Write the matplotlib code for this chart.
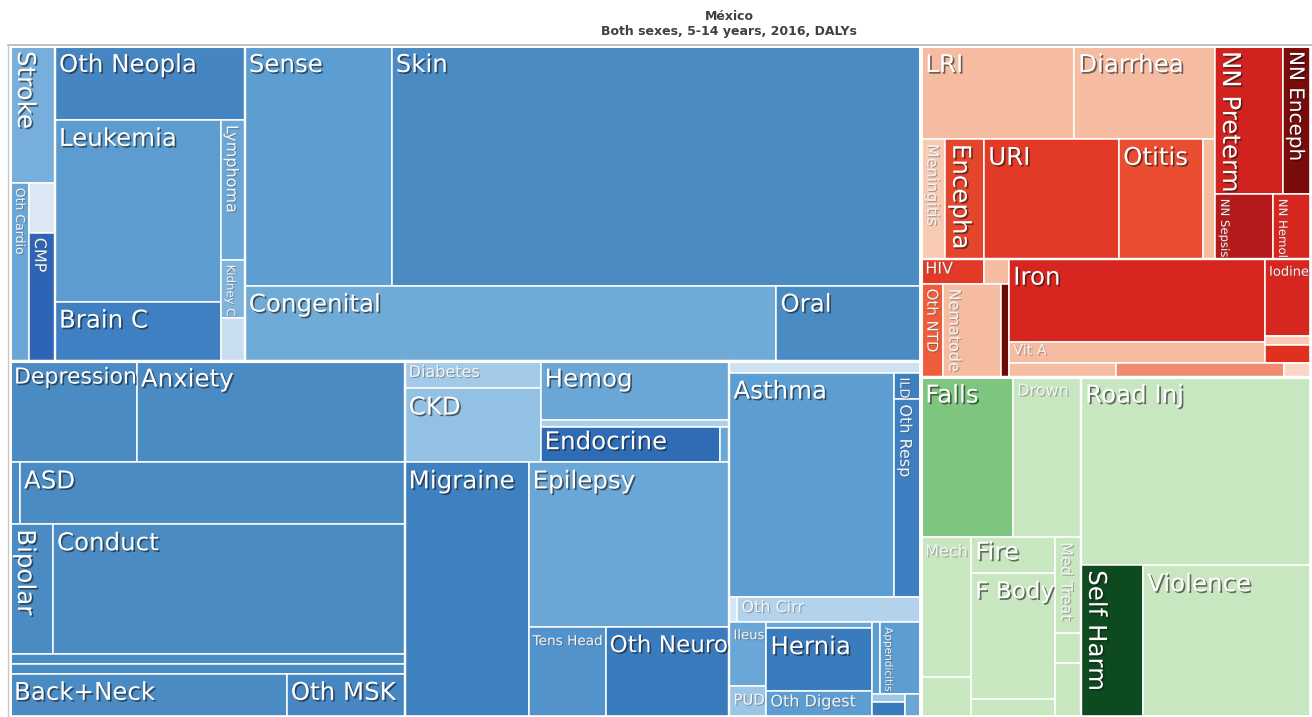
import matplotlib
matplotlib.use("Agg")
import matplotlib.pyplot as plt
from matplotlib.patches import Rectangle
from matplotlib.textpath import TextPath
from matplotlib.font_manager import FontProperties
import matplotlib.patheffects as pe

# ---------------- data (DALY shares, relative units) ----------------
title_country = "México"
title_detail = "Both sexes, 5-14 years, 2016, DALYs"

ncd_causes = ["Stroke", "Oth Cardio", "Endocarditis", "CMP",
              "Oth Neopla", "Leukemia", "Brain C", "Lymphoma", "Kidney C", "Oth Malig",
              "Sense", "Skin", "Congenital", "Oral",
              "Depression", "Anxiety", "Schizo", "ASD", "Bipolar", "Conduct", "ADHD", "Id Int Dis",
              "Back+Neck", "Oth MSK",
              "Diabetes", "CKD", "Hemog", "G6PD", "Endocrine", "Thalass",
              "Migraine", "Epilepsy", "Tens Head", "Oth Neuro",
              "Oth NCD", "Asthma", "ILD", "Oth Resp", "Cirr HepB", "Oth Cirr",
              "Ileus", "PUD", "Gastritis", "Hernia", "Oth Digest", "Gallbladder", "Appendicitis",
              "IBD", "Pancreatitis", "Vasc Intest"]
ncd_dalys = [6165, 3382, 1300, 3328,
             14060, 30212, 9794, 3360, 1392, 1032,
             35280, 127200, 39900, 10875,
             12954, 27336, 620, 23870, 5590, 45760, 3950, 3950,
             11911, 5074,
             3808, 10064, 11340, 1323, 6300, 315,
             31620, 33165, 6930, 11160,
             2304, 37125, 729, 5346, 200, 4600,
             2368, 1147, 636, 6678, 2756, 576, 2952,
             264, 495, 368]
ncd_colors = ["#78aedb", "#6aa6d6", "#dbe8f4", "#2d64b5",
              "#4585c2", "#5c9cd1", "#3e80c1", "#6aa7d7", "#7fb4dc", "#c9def0",
              "#5c9dd2", "#4a8bc4", "#70aad6", "#4a8bc4",
              "#4a8bc4", "#4a8bc4", "#4a8bc4", "#4a8bc4", "#4a8bc4", "#4a8bc4", "#4a8bc4", "#4a8bc4",
              "#4a8bc4", "#4686c2",
              "#a3cbe9", "#93c1e3", "#6aa6d6", "#a9cfeb", "#2f6cb6", "#6aa6d6",
              "#3f80c0", "#6aa6d6", "#5293cb", "#3a7bbe",
              "#cfe2f2", "#5c9dd2", "#3d7fc0", "#3d7fc0", "#d5e6f4", "#b3d3ed",
              "#6aa6d6", "#9cc6e6", "#6aa6d6", "#3a7bbe", "#5c9dd2", "#5c9dd2", "#5c9dd2",
              "#9cc6e6", "#3a7bbe", "#6aa6d6"]

cmnn_causes = ["LRI", "Diarrhea", "Meningitis", "Encepha", "URI", "Otitis", "Typhoid",
               "NN Preterm", "NN Enceph", "NN Sepsis", "NN Hemol",
               "HIV", "TB", "Oth NTD", "Nematode", "Dengue",
               "Iron", "Vit A", "Iodine", "Oth Nutr", "PEM",
               "Oth Infect", "Malaria", "STD"]
cmnn_dalys = [14229, 13113, 2880, 4680, 16200, 10080, 1440,
              10064, 4144, 3770, 2470,
              1575, 625, 2046, 5394, 744,
              21248, 5376, 3542, 414, 828,
              1498, 2352, 378]
cmnn_colors = ["#f6bca2", "#f6bca2", "#f8cab4", "#e4462c", "#e23a26", "#ea4d31", "#f6bca2",
               "#d0221e", "#7a0b0b", "#b41a1a", "#d7261f",
               "#e23a26", "#f6bca2", "#ee5c3a", "#f6bca2", "#6d0a0a",
               "#d7261f", "#f6bca2", "#d7261f", "#f8cab4", "#e0301f",
               "#f6bca2", "#f08b71", "#fbd6c6"]

inj_causes = ["Falls", "Drown", "Mech", "Oth Unint", "Fire", "F Body", "Animal",
              "Med Treat", "Disaster", "Poison", "Road Inj", "Self Harm", "Violence"]
inj_dalys = [14812, 10948, 7000, 2000, 3024, 10584, 1512,
             2496, 780, 1404, 43470, 9424, 25536]
inj_colors = ["#7ec67f", "#c8e7c1", "#c8e7c1", "#c8e7c1", "#c8e7c1", "#c8e7c1", "#c8e7c1",
              "#c8e7c1", "#c8e7c1", "#c8e7c1", "#c8e7c1", "#0d4a1f", "#c8e7c1"]

# ---------------- nesting (split direction, children) ----------------
NCD = ('v', [
    ('h', [
        ('v', ['Stroke', ('h', ['Oth Cardio', ('v', ['Endocarditis', 'CMP'])])]),
        ('v', ['Oth Neopla', ('h', [('v', ['Leukemia', 'Brain C']),
                                    ('v', ['Lymphoma', 'Kidney C', 'Oth Malig'])])]),
        ('v', [('h', ['Sense', 'Skin']), ('h', ['Congenital', 'Oral'])]),
    ]),
    ('h', [
        ('v', [('h', ['Depression', 'Anxiety']), ('h', ['Schizo', 'ASD']),
               ('h', ['Bipolar', 'Conduct']), 'ADHD', 'Id Int Dis',
               ('h', ['Back+Neck', 'Oth MSK'])]),
        ('v', [('h', [('v', ['Diabetes', 'CKD']),
                      ('v', ['Hemog', 'G6PD', ('h', ['Endocrine', 'Thalass'])])]),
               ('h', ['Migraine', ('v', ['Epilepsy', ('h', ['Tens Head', 'Oth Neuro'])])])]),
        ('v', ['Oth NCD', ('h', ['Asthma', ('v', ['ILD', 'Oth Resp'])]),
               ('h', ['Cirr HepB', 'Oth Cirr']),
               ('h', [('v', ['Ileus', 'PUD']),
                      ('v', ['Gastritis', 'Hernia', 'Oth Digest']),
                      ('v', [('h', ['Gallbladder', 'Appendicitis']),
                             ('h', [('v', ['IBD', 'Pancreatitis']), 'Vasc Intest'])])])]),
    ]),
])
CMNN = ('v', [
    ('h', [
        ('v', [('h', ['LRI', 'Diarrhea']),
               ('h', ['Meningitis', 'Encepha', 'URI', 'Otitis', 'Typhoid'])]),
        ('v', [('h', ['NN Preterm', 'NN Enceph']), ('h', ['NN Sepsis', 'NN Hemol'])]),
    ]),
    ('h', [
        ('v', [('h', ['HIV', 'TB']), ('h', ['Oth NTD', 'Nematode', 'Dengue'])]),
        ('v', [('h', [('v', ['Iron', 'Vit A']), ('v', ['Iodine', 'Oth Nutr', 'PEM'])]),
               ('h', ['Oth Infect', 'Malaria', 'STD'])]),
    ]),
])
INJ = ('h', [
    ('v', [('h', ['Falls', 'Drown']),
           ('h', [('v', ['Mech', 'Oth Unint']), ('v', ['Fire', 'F Body', 'Animal']),
                  ('v', ['Med Treat', 'Disaster', 'Poison'])])]),
    ('v', ['Road Inj', ('h', ['Self Harm', 'Violence'])]),
])
ROOT = ('h', [NCD, ('v', [CMNN, INJ])])

hidden = {"Endocarditis", "Oth Malig", "Schizo", "ADHD", "Id Int Dis", "G6PD", "Thalass",
          "Oth NCD", "Cirr HepB", "Gastritis", "Gallbladder", "IBD", "Pancreatitis",
          "Vasc Intest", "Typhoid", "TB", "Dengue", "Oth Nutr", "PEM", "Oth Infect",
          "Malaria", "STD", "Oth Unint", "Animal", "Disaster", "Poison"}
vertical = {"Stroke", "Oth Cardio", "CMP", "Lymphoma", "Kidney C", "Bipolar", "ILD",
            "Oth Resp", "Appendicitis", "Meningitis", "Encepha", "NN Preterm", "NN Enceph",
            "NN Sepsis", "NN Hemol", "Oth NTD", "Nematode", "Med Treat", "Self Harm"}
faint = {"Oth Cardio", "CMP", "Lymphoma", "Kidney C", "Diabetes", "Tens Head", "ILD",
         "Oth Resp", "Oth Cirr", "Ileus", "PUD", "Oth Digest", "Appendicitis", "Meningitis",
         "NN Sepsis", "NN Hemol", "HIV", "Oth NTD", "Nematode", "Vit A", "Iodine",
         "Drown", "Mech", "Med Treat"}

value = dict(zip(ncd_causes + cmnn_causes + inj_causes, ncd_dalys + cmnn_dalys + inj_dalys))
color = dict(zip(ncd_causes + cmnn_causes + inj_causes, ncd_colors + cmnn_colors + inj_colors))

# ---------------- layout ----------------
W, H = 1312, 717
fig = plt.figure(figsize=(W / 100, H / 100), dpi=100)
ax = fig.add_axes([0, 0, 1, 1])
ax.set_xlim(0, W)
ax.set_ylim(H, 0)
ax.axis('off')


def total(node):
    if isinstance(node, str):
        return value[node]
    return sum(total(c) for c in node[1])


leaves, groups = [], []


def place(node, x0, y0, x1, y1, depth):
    if isinstance(node, str):
        leaves.append((node, x0, y0, x1, y1))
        return
    groups.append((depth, x0, y0, x1, y1))
    d, kids = node
    tot = total(node)
    pos = x0 if d == 'h' else y0
    for k in kids:
        frac = total(k) / tot
        if d == 'h':
            w = (x1 - x0) * frac
            place(k, pos, y0, pos + w, y1, depth + 1)
        else:
            w = (y1 - y0) * frac
            place(k, x0, pos, x1, pos + w, depth + 1)
        pos += w


place(ROOT, 10, 46, 1311, 717, 0)

for name, x0, y0, x1, y1 in leaves:
    ax.add_patch(Rectangle((x0, y0), x1 - x0, y1 - y0, facecolor=color[name],
                           edgecolor='white', linewidth=1.1))
for depth, x0, y0, x1, y1 in groups:
    if 1 <= depth <= 3:
        lw = {1: 2.6, 2: 2.2, 3: 1.6}[depth]
        ax.add_patch(Rectangle((x0, y0), x1 - x0, y1 - y0, facecolor='none',
                               edgecolor='white', linewidth=lw))

# frame lines
ax.plot([8, W], [44.5, 44.5], color='#b5b5b5', lw=1.2)
ax.plot([8, 8], [44.5, H], color='#c8c8c8', lw=1.0)

# ---------------- labels ----------------
fp = FontProperties(family='DejaVu Sans')


def em_width(s):
    return TextPath((0, 0), s, size=1, prop=fp).get_extents().width


for name, x0, y0, x1, y1 in leaves:
    if name in hidden:
        continue
    w, h = x1 - x0, y1 - y0
    tw = em_width(name)
    maxpx = 16.0 if name in faint else 24.5
    if name in vertical:
        px = min(maxpx, (h - 8) / tw, (w - 4) / 1.2)
        rot = -90
        tx, ty = x0 + 3, y0 + 5
    else:
        px = min(maxpx, (w - 8) / tw, (h - 3) / 1.25)
        rot = 0
        tx, ty = x0 + 4, y0 + min(7, max(2, (h - px * 1.2) / 2))
    if px < 6:
        continue
    if name in faint:
        eff = [pe.withSimplePatchShadow(offset=(0.8, -0.8), shadow_rgbFace='#555555', alpha=0.45)]
        col = '#f4f4f4'
    else:
        eff = [pe.withSimplePatchShadow(offset=(1.2, -1.2), shadow_rgbFace='#1a1a1a', alpha=0.6)]
        col = 'white'
    ax.text(tx, ty, name, rotation=rot, ha='left', va='top', fontsize=px * 72 / 100,
            color=col, family='DejaVu Sans', path_effects=eff)

# ---------------- title ----------------
ax.text(729, 16, title_country, ha='center', va='center', fontsize=9,
        fontweight='bold', color='#404040')
ax.text(729, 32, title_detail, ha='center', va='center', fontsize=9,
        fontweight='bold', color='#404040')

fig.savefig("out.png", dpi=100)
